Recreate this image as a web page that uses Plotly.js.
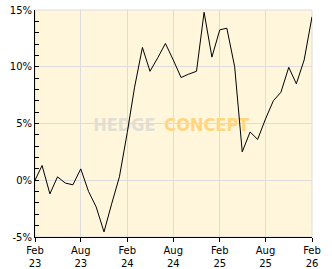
<!DOCTYPE html>
<html>
<head>
<meta charset="utf-8">
<script src="https://cdn.plot.ly/plotly-3.0.1.min.js"></script>
<style>html,body{margin:0;padding:0;background:#fff;}#chart{width:332px;height:269px;}</style>
</head>
<body>
<div id="chart"></div>
<script>
const months = [
  "2023-02-01","2023-03-01","2023-04-01","2023-05-01","2023-06-01","2023-07-01",
  "2023-08-01","2023-09-01","2023-10-01","2023-11-01","2023-12-01","2024-01-01",
  "2024-02-01","2024-03-01","2024-04-01","2024-05-01","2024-06-01","2024-07-01",
  "2024-08-01","2024-09-01","2024-10-01","2024-11-01","2024-12-01","2025-01-01",
  "2025-02-01","2025-03-01","2025-04-01","2025-05-01","2025-06-01","2025-07-01",
  "2025-08-01","2025-09-01","2025-10-01","2025-11-01","2025-12-01","2026-01-01",
  "2026-02-01"
];
const performance = [
  0.0, 1.3, -1.2, 0.3, -0.25, -0.4,
  1.0, -1.0, -2.35, -4.55, -2.1, 0.3,
  4.2, 8.2, 11.7, 9.6, 10.8, 12.05,
  10.6, 9.05, 9.35, 9.6, 14.8, 10.85,
  13.25, 13.4, 10.0, 2.5, 4.25, 3.6,
  5.4, 7.0, 7.75, 9.95, 8.5, 10.6,
  14.4
];
const xTickVals = ["2023-02-01","2023-08-01","2024-02-01","2024-08-01","2025-02-01","2025-08-01","2026-02-01"];
const xTickText = ["Feb<br>23","Aug<br>23","Feb<br>24","Aug<br>24","Feb<br>25","Aug<br>25","Feb<br>26"];
const yTickVals = [-5, 0, 5, 10, 15];
const yTickText = ["-5%", "0%", "5%", "10%", "15%"];

const font = {family: "DejaVu Sans", size: 10, color: "#000"};
const wmFamily = "DejaVu Sans Condensed, Liberation Sans, sans-serif";

const data = [{
  x: months, y: performance, type: "scatter", mode: "lines",
  line: {color: "#000", width: 1}, hoverinfo: "skip"
}];

const layout = {
  width: 332, height: 269,
  margin: {l: 35, r: 20, t: 10, b: 32, pad: 0},
  paper_bgcolor: "#ffffff",
  plot_bgcolor: "#fff6dc",
  showlegend: false,
  font: font,
  xaxis: {
    type: "date",
    range: ["2023-02-01", "2026-02-01"],
    tickvals: xTickVals, ticktext: xTickText,
    ticks: "outside", ticklen: 4, tickcolor: "#000", tickwidth: 1,
    showgrid: true, gridcolor: "#dcdcdc", gridwidth: 1,
    showline: true, linecolor: "#000", linewidth: 1,
    zeroline: false, tickfont: font, fixedrange: true
  },
  yaxis: {
    range: [-5, 15],
    tickvals: yTickVals, ticktext: yTickText,
    ticks: "inside", ticklen: 4, tickcolor: "#000", tickwidth: 1,
    minor: {dtick: 1, tick0: 0, ticks: "inside", ticklen: 4, tickcolor: "#000", showgrid: false},
    showgrid: true, gridcolor: "#dcdcdc", gridwidth: 1,
    showline: true, linecolor: "#000", linewidth: 1,
    zeroline: false, tickfont: font, fixedrange: true
  },
  shapes: [
    {type: "rect", xref: "paper", yref: "paper", x0: 0, x1: 1, y0: 0, y1: 1,
     line: {color: "#dcdcdc", width: 1}, fillcolor: "rgba(0,0,0,0)", layer: "below"},
    {type: "rect", xref: "x", yref: "y", x0: "2023-06-01", x1: "2024-06-04", y0: 4.0, y1: 6.0,
     line: {width: 0}, fillcolor: "rgba(0,0,0,0)", layer: "below",
     label: {text: "HEDGE", textposition: "middle right", padding: 0,
             font: {family: wmFamily, size: 18, weight: "bold", color: "rgba(212,212,208,0.7)"}}},
    {type: "rect", xref: "x", yref: "y", x0: "2024-06-15", x1: "2025-08-01", y0: 4.0, y1: 6.0,
     line: {width: 0}, fillcolor: "rgba(0,0,0,0)", layer: "below",
     label: {text: "CONCEPT", textposition: "middle left", padding: 0,
             font: {family: wmFamily, size: 18, weight: "bold", color: "rgba(255,206,102,0.8)"}}}
  ]
};

Plotly.newPlot("chart", data, layout, {displayModeBar: false, staticPlot: true});
</script>
</body>
</html>
